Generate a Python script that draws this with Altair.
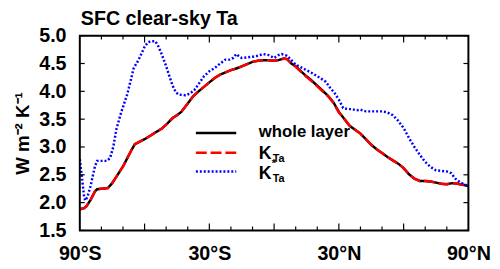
import altair as alt
import pandas as pd

# ---------------- data ----------------
lat_whole = [-90, -88, -87, -85, -83, -82, -80, -77, -75, -72.5, -70, -68, -66, -64.5,
             -62, -60, -57, -55, -52, -49.5, -47, -45, -43, -40, -37.5, -35, -32.5, -30,
             -27.5, -25, -22.5, -20, -17.5, -15, -12.5, -10, -7.5, -5, -2.5, 0, 2, 4.5, 6,
             8, 10, 12.5, 15, 17.5, 20, 22.5, 25, 27.5, 30, 32, 35, 37.5, 40, 42.5, 45,
             47.5, 50, 52.5, 55, 57.5, 60, 62.5, 65, 67.5, 70, 72.5, 75, 77.5, 80, 82.5,
             85, 87.5, 90]
val_whole = [1.88, 1.90, 1.93, 2.05, 2.20, 2.24, 2.25, 2.26, 2.35, 2.50, 2.65, 2.80, 2.95,
             3.05, 3.10, 3.14, 3.21, 3.26, 3.33, 3.42, 3.52, 3.57, 3.63, 3.78, 3.91, 4.00,
             4.08, 4.16, 4.24, 4.30, 4.34, 4.38, 4.41, 4.45, 4.49, 4.53, 4.55, 4.56, 4.56,
             4.55, 4.56, 4.59, 4.58, 4.50, 4.45, 4.36, 4.27, 4.19, 4.10, 4.01, 3.92, 3.80,
             3.63, 3.53, 3.38, 3.31, 3.24, 3.14, 3.04, 2.96, 2.89, 2.82, 2.76, 2.70, 2.62,
             2.51, 2.43, 2.39, 2.39, 2.38, 2.36, 2.34, 2.33, 2.35, 2.34, 2.32, 2.30]

lat_kta = lat_whole
val_kta = [1.88, 1.90, 1.93, 2.05, 2.20, 2.24, 2.25, 2.26, 2.35, 2.50, 2.65, 2.80, 2.95,
           3.05, 3.10, 3.14, 3.21, 3.26, 3.33, 3.42, 3.52, 3.57, 3.63, 3.78, 3.91, 4.00,
           4.08, 4.16, 4.24, 4.30, 4.34, 4.38, 4.41, 4.45, 4.49, 4.53, 4.55, 4.56, 4.56,
           4.55, 4.56, 4.59, 4.58, 4.50, 4.44, 4.35, 4.26, 4.18, 4.09, 4.00, 3.91, 3.79,
           3.62, 3.53, 3.38, 3.31, 3.24, 3.14, 3.04, 2.96, 2.89, 2.82, 2.76, 2.70, 2.62,
           2.51, 2.43, 2.39, 2.39, 2.38, 2.36, 2.34, 2.33, 2.35, 2.34, 2.32, 2.30]

lat_kstar = [-90, -89, -88, -87.5, -86.5, -85, -83, -82, -77.5, -76, -74.5, -73, -71, -68,
             -65, -63, -62, -60, -58.5, -57, -55, -53.5, -52, -50, -49, -47, -45.5, -44,
             -41, -39, -37, -35, -32.5, -30, -27.5, -25, -22.5, -20.5, -19, -17.5, -16,
             -15, -12.5, -10, -7.5, -5, -2.5, 0, 2, 3.5, 6, 8, 10, 12.5, 15, 17.5, 20,
             22.5, 24, 26, 28, 30, 32, 34, 36, 38, 40, 42.5, 45, 47.5, 50, 52.5, 55, 57.5,
             60, 62.5, 65, 67.5, 70, 72.5, 75, 77.5, 80, 82, 84, 86, 88, 90]
val_kstar = [2.78, 2.45, 2.10, 2.04, 2.10, 2.30, 2.65, 2.75, 2.75, 2.80, 3.00, 3.33, 3.60,
             3.95, 4.42, 4.55, 4.63, 4.80, 4.88, 4.90, 4.90, 4.80, 4.66, 4.45, 4.33, 4.10,
             3.98, 3.94, 3.93, 3.96, 4.02, 4.13, 4.27, 4.36, 4.42, 4.50, 4.57, 4.57, 4.60,
             4.67, 4.62, 4.60, 4.61, 4.62, 4.64, 4.67, 4.65, 4.60, 4.65, 4.67, 4.64, 4.56,
             4.48, 4.43, 4.38, 4.33, 4.27, 4.21, 4.17, 4.06, 3.97, 3.85, 3.70, 3.68, 3.68,
             3.66, 3.67, 3.64, 3.64, 3.64, 3.64, 3.62, 3.57, 3.47, 3.34, 3.16, 3.00, 2.86,
             2.73, 2.64, 2.58, 2.57, 2.56, 2.53, 2.43, 2.37, 2.33, 2.30]

x_label_values = [-90, -30, 30, 90]
x_major_ticks = [-60, -30, 0, 30, 60]
x_minor_ticks = [-80, -70, -50, -40, -20, -10, 10, 20, 40, 50, 70, 80]
y_tick_values = [1.5, 2.0, 2.5, 3.0, 3.5, 4.0, 4.5, 5.0]

title_text = "SFC clear-sky Ta"
y_title = "W m\u207b\u00b2 K\u207b\u00b9"
legend_whole = "whole layer"

# ---------------- layout ----------------
W, H = 395, 198
FONT = "Liberation Sans"

xscale = alt.Scale(domain=[-90, 90], nice=False, zero=False)
yscale = alt.Scale(domain=[1.5, 5.0], nice=False, zero=False)

x_axis = alt.Axis(values=x_label_values,
                  labelExpr="datum.value < 0 ? abs(datum.value) + '°S' : (datum.value > 0 ? datum.value + '°N' : 'EQ')",
                  ticks=False, domain=False, grid=False, title=None, labelPadding=14,
                  labelFlush=False, labelOverlap=False, labelBound=False,
                  labelFont=FONT, labelFontWeight="bold", labelFontSize=20, labelColor="black")
y_axis = alt.Axis(values=y_tick_values, format=".1f", ticks=False, domain=False, grid=False,
                  title=y_title, titleX=-52, titleY=H / 2, titleAngle=270,
                  titleBaseline="alphabetic", titleAlign="center", titleFontSize=19,
                  titleFont=FONT, titleFontWeight="bold", titleColor="black",
                  labelPadding=14, labelOverlap=False, labelFlush=False,
                  labelFont=FONT, labelFontWeight="bold", labelFontSize=20, labelColor="black")


def line_layer(lat, val, color, dash=None):
    df = pd.DataFrame({"lat": lat, "val": val})
    kw = dict(color=color, strokeWidth=2.5, clip=True)
    if dash:
        kw["strokeDash"] = dash
    return alt.Chart(df).mark_line(**kw).encode(
        x=alt.X("lat:Q", scale=xscale, axis=x_axis),
        y=alt.Y("val:Q", scale=yscale, axis=y_axis),
    )


black = line_layer(lat_whole, val_whole, "black")
red = line_layer(lat_kta, val_kta, "#ff0000", dash=[11, 4])
blue = line_layer(lat_kstar, val_kstar, "#0000ff", dash=[2, 2])

# inward ticks on all four sides
df_xmaj = pd.DataFrame({"lat": x_major_ticks})
df_xmin = pd.DataFrame({"lat": x_minor_ticks})
df_y = pd.DataFrame({"val": y_tick_values})


def xticks(df, length):
    bot = alt.Chart(df).mark_rule(color="black", strokeWidth=1.2).encode(
        x=alt.X("lat:Q", scale=xscale, axis=x_axis), y=alt.value(H), y2=alt.value(H - length))
    top = alt.Chart(df).mark_rule(color="black", strokeWidth=1.2).encode(
        x=alt.X("lat:Q", scale=xscale, axis=x_axis), y=alt.value(0), y2=alt.value(length))
    return bot + top


def yticks(df, length):
    left = alt.Chart(df).mark_rule(color="black", strokeWidth=1.2).encode(
        y=alt.Y("val:Q", scale=yscale, axis=y_axis), x=alt.value(0), x2=alt.value(length))
    right = alt.Chart(df).mark_rule(color="black", strokeWidth=1.2).encode(
        y=alt.Y("val:Q", scale=yscale, axis=y_axis), x=alt.value(W), x2=alt.value(W - length))
    return left + right


ticks = xticks(df_xmaj, 7) + xticks(df_xmin, 4) + yticks(df_y, 5)

# frame
one = pd.DataFrame({"a": [0]})
frame = alt.Chart(one).mark_rect(fill=None, stroke="black", strokeWidth=2).encode(
    x=alt.value(0), x2=alt.value(W), y=alt.value(0), y2=alt.value(H))

# title
title = alt.Chart(pd.DataFrame({"t": [title_text]})).mark_text(
    align="left", baseline="alphabetic", font=FONT, fontWeight="bold", fontSize=20,
    color="black").encode(text="t:N", x=alt.value(1), y=alt.value(-11))

# legend
leg_x1, leg_x2, leg_tx = 118, 159, 182
leg_black = alt.Chart(one).mark_rule(color="black", strokeWidth=2.5).encode(
    x=alt.value(leg_x1), x2=alt.value(leg_x2), y=alt.value(99))
leg_red = alt.Chart(one).mark_rule(color="#ff0000", strokeWidth=2.5, strokeDash=[11, 4]).encode(
    x=alt.value(leg_x1), x2=alt.value(leg_x2), y=alt.value(119))
leg_blue = alt.Chart(one).mark_rule(color="#0000ff", strokeWidth=2.5, strokeDash=[2, 2]).encode(
    x=alt.value(leg_x1), x2=alt.value(leg_x2), y=alt.value(138))


def txt(s, x, y, size):
    return alt.Chart(pd.DataFrame({"t": [s]})).mark_text(
        align="left", baseline="alphabetic", font=FONT, fontWeight="bold", fontSize=size,
        color="black").encode(text="t:N", x=alt.value(x), y=alt.value(y))


legend = (leg_black + leg_red + leg_blue
          + txt(legend_whole, leg_tx, 103, 17)
          + txt("K", leg_tx, 125, 18) + txt("Ta", leg_tx + 14, 128, 11)
          + txt("K", leg_tx, 146, 18) + txt("*", leg_tx + 13, 134, 11)
          + txt("Ta", leg_tx + 14, 149, 11))

chart = alt.layer(black, red, blue, ticks, frame, legend, title).properties(
    width=W, height=H,
    autosize=alt.AutoSizeParams(type="none"),
    padding={"left": 73, "top": 26, "right": 24, "bottom": 34},
    background="white",
).configure_view(stroke=None)

chart.save("out.html", embed_options={"renderer": "svg", "actions": False})
